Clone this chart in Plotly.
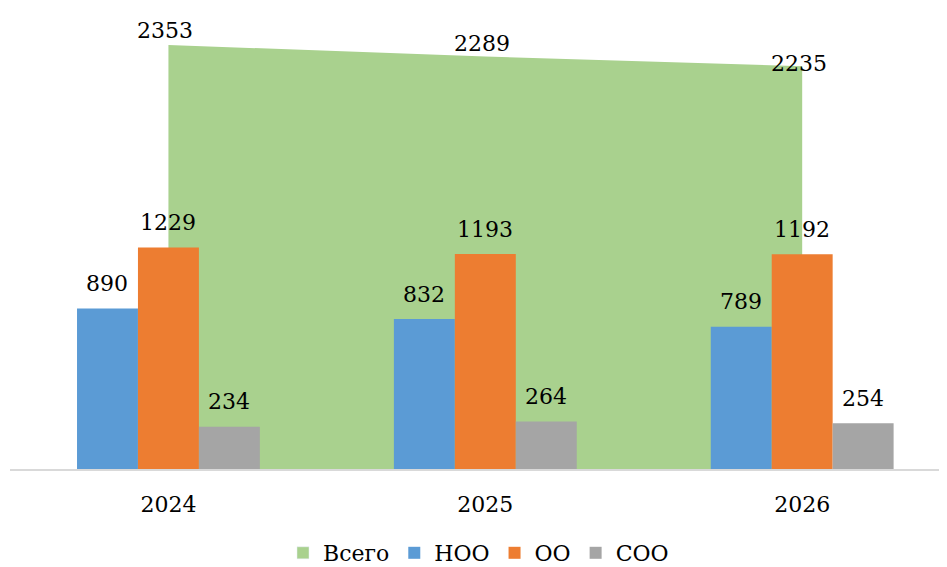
import plotly.graph_objects as go

years = ["2024", "2025", "2026"]
total = [2353, 2289, 2235]
noo = [890, 832, 789]
oo = [1229, 1193, 1192]
soo = [234, 264, 254]

colors = {"Всего": "#A9D18E", "НОО": "#5B9BD5", "ОО": "#ED7D31", "СОО": "#A5A5A5"}

FONT = "DejaVu Serif"
FS = 22
xs = list(range(len(years)))
XR = [-0.5, 2.457]
YR = [0, 2547]

fig = go.Figure()
fig.add_trace(go.Scatter(
    x=xs, y=total, name="Всего", mode="none", fill="tozeroy",
    fillcolor=colors["Всего"], xaxis="x", yaxis="y", hoverinfo="skip",
    showlegend=False))

fig.add_trace(go.Bar(x=[None], y=[None], name="Всего",
                     marker=dict(color=colors["Всего"]), xaxis="x2", yaxis="y2",
                     showlegend=True))

for nm, vals in [("НОО", noo), ("ОО", oo), ("СОО", soo)]:
    fig.add_trace(go.Bar(
        x=xs, y=vals, name=nm, marker=dict(color=colors[nm], line=dict(width=0)),
        xaxis="x2", yaxis="y2", offsetgroup=nm))

annotations = []
area_shift = [14, 12.5, 2.5]
for i, v in enumerate(total):
    annotations.append(dict(x=xs[i], y=v, xref="x", yref="y", text=str(v),
                            showarrow=False, yanchor="middle", yshift=area_shift[i],
                            xshift=-3, font=dict(family=FONT, size=FS, color="black")))
bar_w = (1 - 0.423) / 3
for j, vals in enumerate([noo, oo, soo]):
    for i, v in enumerate(vals):
        annotations.append(dict(x=xs[i] + (j - 1) * bar_w, y=v, xref="x", yref="y",
                                text=str(v), showarrow=False, yanchor="middle",
                                yshift=25, font=dict(family=FONT, size=FS, color="black")))

fig.update_layout(
    width=939, height=559,
    margin=dict(l=2, r=0, t=2, b=98, autoexpand=False),
    paper_bgcolor="white", plot_bgcolor="white",
    font=dict(family=FONT, size=FS, color="black"),
    barmode="group", bargap=0.423, bargroupgap=0,
    showlegend=True,
    legend=dict(orientation="h", x=0.5, xanchor="center", y=-0.183, yanchor="middle",
                traceorder="normal", font=dict(family=FONT, size=FS),
                itemwidth=30),
    xaxis=dict(range=XR, tickvals=xs, ticktext=years, showgrid=False, zeroline=False,
               showline=True, linecolor="#D9D9D9", linewidth=2, ticks="",
               ticklabelstandoff=15, tickfont=dict(family=FONT, size=FS)),
    yaxis=dict(range=YR, showgrid=False, zeroline=False, showticklabels=False, showline=False),
    xaxis2=dict(range=XR, overlaying="x", visible=False),
    yaxis2=dict(range=YR, overlaying="y", visible=False),
    annotations=annotations,
)

fig.write_html("out.html")
